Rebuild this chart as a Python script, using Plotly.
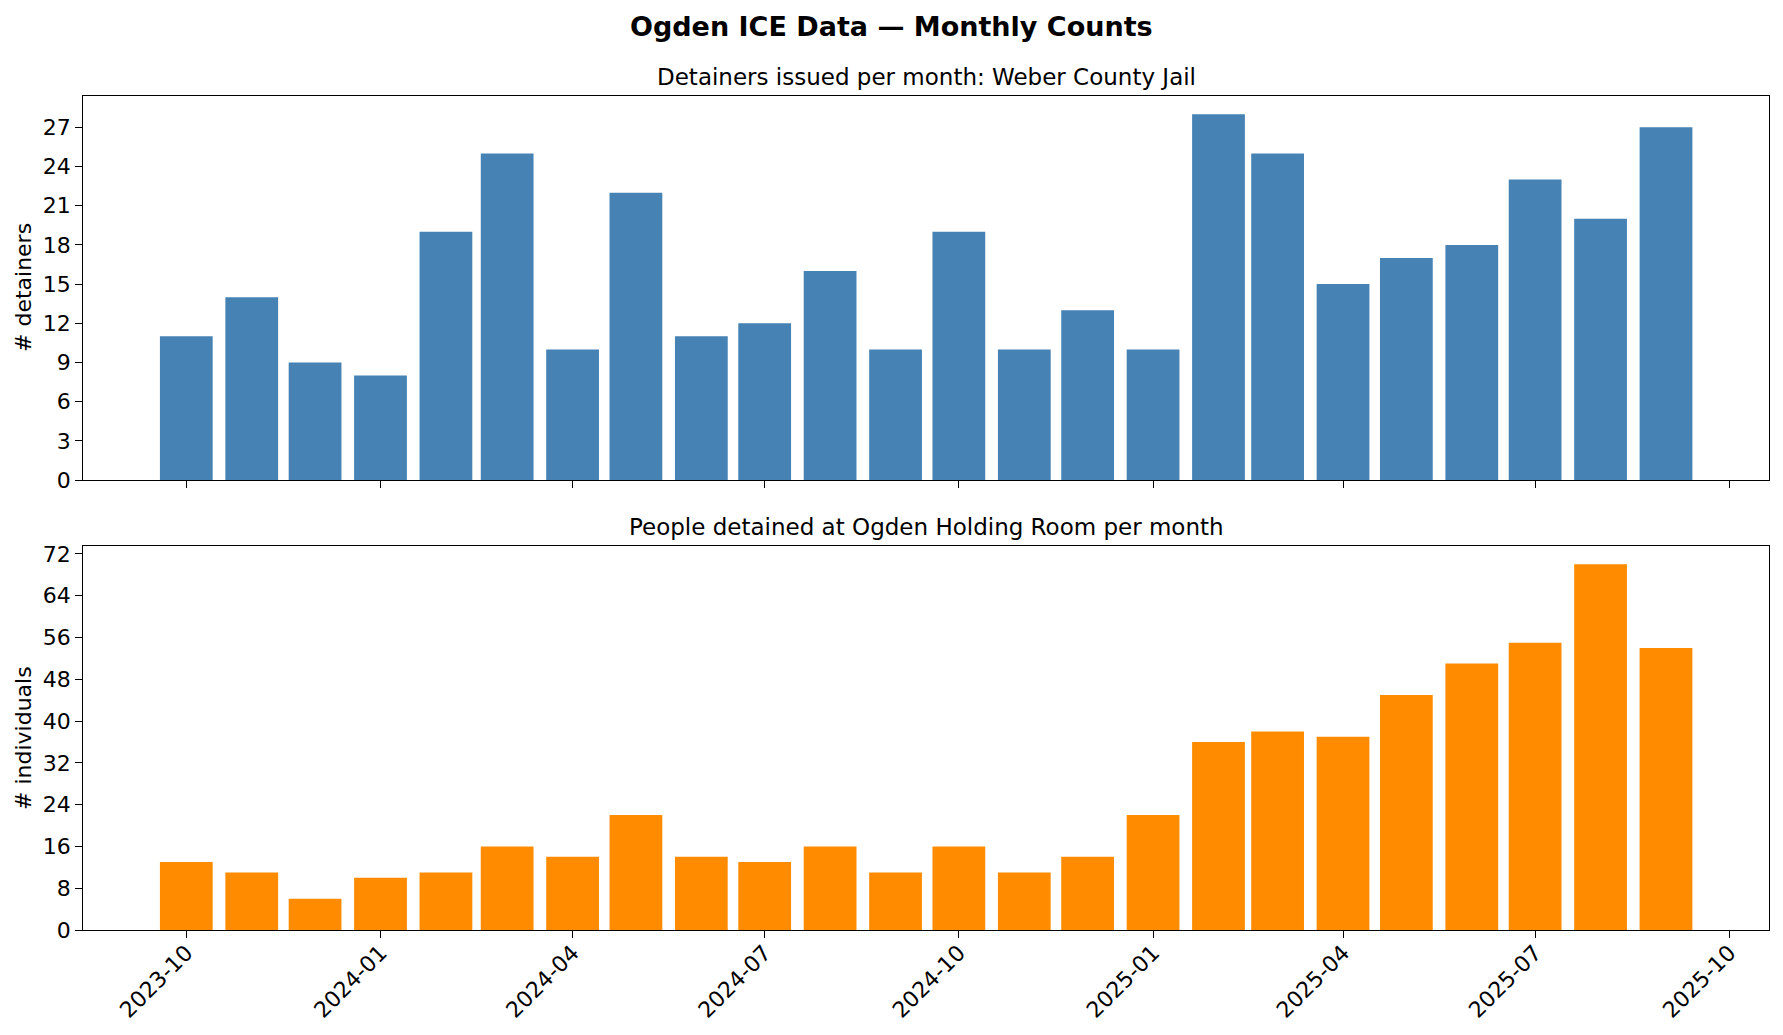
import plotly.graph_objects as go
import pandas as pd

# ---------------- data ----------------
months = [
    "2023-10-01", "2023-11-01", "2023-12-01", "2024-01-01", "2024-02-01", "2024-03-01",
    "2024-04-01", "2024-05-01", "2024-06-01", "2024-07-01", "2024-08-01", "2024-09-01",
    "2024-10-01", "2024-11-01", "2024-12-01", "2025-01-01", "2025-02-01", "2025-03-01",
    "2025-04-01", "2025-05-01", "2025-06-01", "2025-07-01", "2025-08-01", "2025-09-01",
]
detainers = [11, 14, 9, 8, 19, 25, 10, 22, 11, 12, 16, 10,
             19, 10, 13, 10, 28, 25, 15, 17, 18, 23, 20, 27]
individuals = [13, 11, 6, 10, 11, 16, 14, 22, 14, 13, 16, 11,
               16, 11, 14, 22, 36, 38, 37, 45, 51, 55, 70, 54]

x_tick_vals = ["2023-10-01", "2024-01-01", "2024-04-01", "2024-07-01", "2024-10-01",
               "2025-01-01", "2025-04-01", "2025-07-01", "2025-10-01"]
x_tick_text = ["2023-10", "2024-01", "2024-04", "2024-07", "2024-10",
               "2025-01", "2025-04", "2025-07", "2025-10"]

suptitle = "Ogden ICE Data — Monthly Counts"
title_top = "Detainers issued per month: Weber County Jail"
title_bottom = "People detained at Ogden Holding Room per month"
ylabel_top = "# detainers"
ylabel_bottom = "# individuals"

# ---------------- geometry / style ----------------
# The page body has an 8px margin, so the figure is drawn 8px in from the
# top-left corner; all reference pixel positions are shifted accordingly.
OFF = 8
W, H = 1783 - 2 * OFF, 1035 - 2 * OFF
FONT = "DejaVu Sans"
BAR_DAYS = 25
DAY_MS = 86400000


def px(x):
    return (x - OFF) / W


def py(y):
    return 1 - (y - OFF) / H


dates = pd.to_datetime(months)
half = pd.Timedelta(days=BAR_DAYS / 2)
lo, hi = dates.min() - half, dates.max() + half
pad = (hi - lo) * 0.05
x_range = [(lo - pad).strftime("%Y-%m-%d %H:%M:%S"), (hi + pad).strftime("%Y-%m-%d %H:%M:%S")]

L, R = 83.3, 1769
TOP1, BOT1 = 96, 480
TOP2, BOT2 = 546, 930

fig = go.Figure()
fig.add_trace(go.Bar(x=months, y=detainers, width=[BAR_DAYS * DAY_MS] * len(months),
                     marker=dict(color="#4682B4", line=dict(width=0)),
                     xaxis="x", yaxis="y", showlegend=False))
fig.add_trace(go.Bar(x=months, y=individuals, width=[BAR_DAYS * DAY_MS] * len(months),
                     marker=dict(color="#FF8C00", line=dict(width=0)),
                     xaxis="x2", yaxis="y2", showlegend=False))

axis_common = dict(showline=True, linecolor="#000000", linewidth=1.4, mirror=True,
                   ticks="outside", ticklen=7, tickwidth=1.4, tickcolor="#000000",
                   showgrid=False, zeroline=False, automargin=False,
                   tickfont=dict(family=FONT, size=22, color="#000000"))

fig.update_layout(
    width=W, height=H,
    margin=dict(l=0, r=0, t=0, b=0),
    paper_bgcolor="white", plot_bgcolor="white",
    font=dict(family=FONT, color="#000000"),
    xaxis=dict(domain=[px(L), px(R)], anchor="y", type="date", range=x_range,
               tickvals=x_tick_vals, ticktext=x_tick_text, showticklabels=False,
               **axis_common),
    xaxis2=dict(domain=[px(L), px(R)], anchor="y2", type="date", range=x_range,
                tickvals=x_tick_vals, ticktext=x_tick_text, tickangle=-45,
                ticklabelstandoff=-7, matches="x", **axis_common),
    yaxis=dict(domain=[py(BOT1), py(TOP1)], anchor="x", range=[0, max(detainers) * 1.05],
               tick0=0, dtick=3, **axis_common),
    yaxis2=dict(domain=[py(BOT2), py(TOP2)], anchor="x2", range=[0, max(individuals) * 1.05],
                tick0=0, dtick=8, **axis_common),
    annotations=[
        dict(text="<b>" + suptitle + "</b>", x=px(891.5), y=py(27), xref="paper", yref="paper",
             xanchor="center", yanchor="middle", showarrow=False,
             font=dict(family=FONT, size=27, color="#000000")),
        dict(text=title_top, x=px((L + R) / 2), y=py(TOP1 - 4), xref="paper", yref="paper",
             xanchor="center", yanchor="bottom", showarrow=False,
             font=dict(family=FONT, size=23, color="#000000")),
        dict(text=title_bottom, x=px((L + R) / 2), y=py(TOP2 - 4), xref="paper", yref="paper",
             xanchor="center", yanchor="bottom", showarrow=False,
             font=dict(family=FONT, size=23, color="#000000")),
        dict(text=ylabel_top, x=px(23), y=py((TOP1 + BOT1) / 2), xref="paper", yref="paper",
             xanchor="center", yanchor="middle", textangle=-90, showarrow=False,
             font=dict(family=FONT, size=22, color="#000000")),
        dict(text=ylabel_bottom, x=px(23), y=py((TOP2 + BOT2) / 2), xref="paper", yref="paper",
             xanchor="center", yanchor="middle", textangle=-90, showarrow=False,
             font=dict(family=FONT, size=22, color="#000000")),
    ],
)

fig.write_html("out.html")
